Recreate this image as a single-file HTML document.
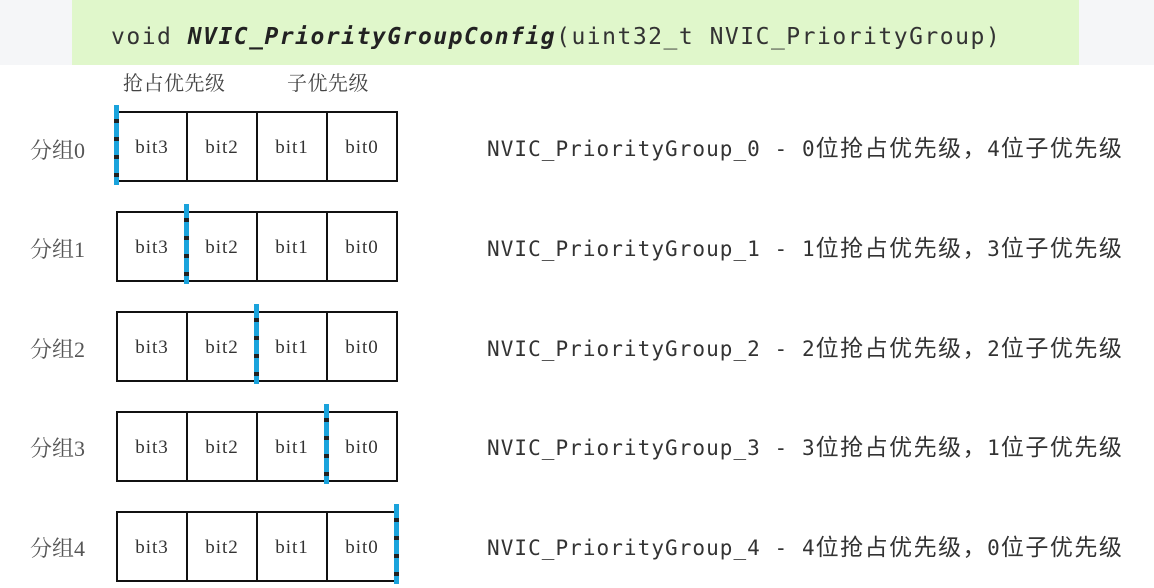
<!DOCTYPE html>
<html><head><meta charset="utf-8"><style>
*{margin:0;padding:0;box-sizing:border-box}
body{width:1154px;height:588px;background:#fff;position:relative;overflow:hidden;font-family:"Liberation Serif","Noto Serif CJK SC",serif}
.bar{position:absolute;left:0;top:0;width:1154px;height:65px;background:#f5f6f8}
.ban{position:absolute;left:72px;top:0;width:1007px;height:65px;background:#e0f7cb}
.title{position:absolute;left:111px;top:24px;font:23px "DejaVu Sans Mono","Liberation Mono",monospace;color:#333;white-space:nowrap;letter-spacing:1.5px}
.title b{font-style:italic;color:#222}
.hdr{position:absolute;top:67px;font-size:20px;color:#444;font-family:"Noto Serif CJK SC",serif;letter-spacing:0.5px}
.grp{position:absolute;left:30px;font-size:22px;color:#555;font-family:"Liberation Serif","Noto Serif CJK SC",serif}
.box{position:absolute;left:116px;width:282px;height:71px;border:2px solid #111;display:flex}
.box div{flex:1;border-right:2px solid #111;display:flex;align-items:center;justify-content:center;font-size:19px;color:#333;font-family:"Liberation Serif",serif;letter-spacing:1px;padding-top:3px}
.box div:last-child{border-right:none}
.mk{position:absolute;width:5px;background:repeating-linear-gradient(#1aa3dc 0 14px,#222 14px 18px)}
.desc{position:absolute;left:487px;font-size:21px;color:#333;font-family:"DejaVu Sans Mono","Noto Sans CJK SC",monospace;white-space:nowrap;letter-spacing:1.05px}
.desc span{font-size:23px;letter-spacing:1.5px}
</style></head><body>
<div class="bar"></div><div class="ban"></div>
<div class="title">void <b>NVIC_PriorityGroupConfig</b>(uint32_t NVIC_PriorityGroup)</div>
<div class="hdr" style="left:123px">抢占优先级</div>
<div class="hdr" style="left:287px">子优先级</div>

<div class="grp" style="top:134px">分组0</div>
<div class="box" style="top:111px"><div>bit3</div><div>bit2</div><div>bit1</div><div>bit0</div></div>
<div class="mk" style="left:114px;top:105px;height:80px"></div>
<div class="desc" style="top:129px">NVIC_PriorityGroup_0 - 0<span>位抢占优先级，</span>4<span>位子优先级</span></div>

<div class="grp" style="top:233px">分组1</div>
<div class="box" style="top:211px"><div>bit3</div><div>bit2</div><div>bit1</div><div>bit0</div></div>
<div class="mk" style="left:184px;top:204px;height:80px"></div>
<div class="desc" style="top:229px">NVIC_PriorityGroup_1 - 1<span>位抢占优先级，</span>3<span>位子优先级</span></div>

<div class="grp" style="top:333px">分组2</div>
<div class="box" style="top:311px"><div>bit3</div><div>bit2</div><div>bit1</div><div>bit0</div></div>
<div class="mk" style="left:254px;top:304px;height:80px"></div>
<div class="desc" style="top:329px">NVIC_PriorityGroup_2 - 2<span>位抢占优先级，</span>2<span>位子优先级</span></div>

<div class="grp" style="top:432px">分组3</div>
<div class="box" style="top:411px"><div>bit3</div><div>bit2</div><div>bit1</div><div>bit0</div></div>
<div class="mk" style="left:324px;top:404px;height:80px"></div>
<div class="desc" style="top:428px">NVIC_PriorityGroup_3 - 3<span>位抢占优先级，</span>1<span>位子优先级</span></div>

<div class="grp" style="top:532px">分组4</div>
<div class="box" style="top:511px"><div>bit3</div><div>bit2</div><div>bit1</div><div>bit0</div></div>
<div class="mk" style="left:394px;top:504px;height:80px"></div>
<div class="desc" style="top:528px">NVIC_PriorityGroup_4 - 4<span>位抢占优先级，</span>0<span>位子优先级</span></div>
</body></html>
